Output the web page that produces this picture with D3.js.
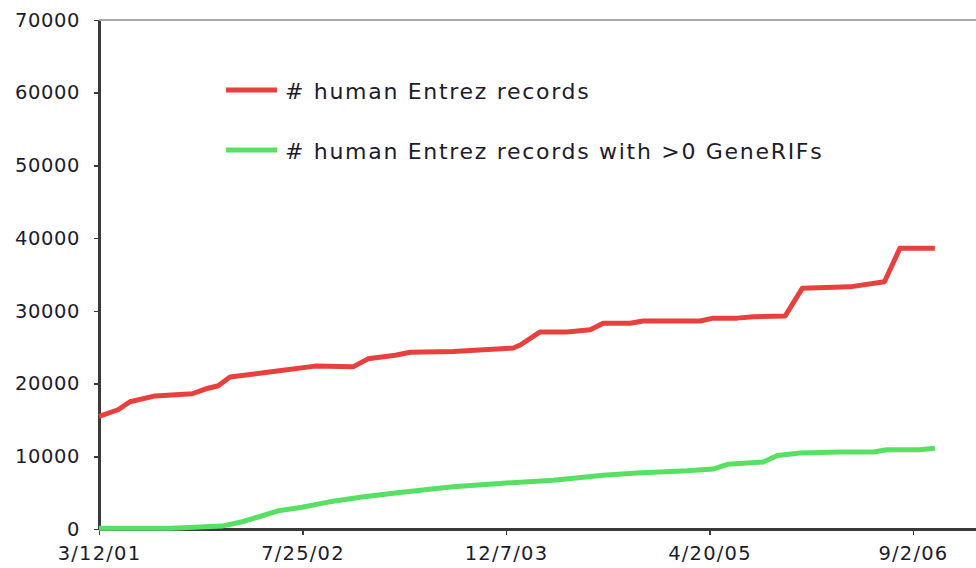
<!DOCTYPE html>
<html>
<head>
<meta charset="utf-8">
<script src="https://cdn.jsdelivr.net/npm/d3@7"></script>
<style>
  html, body { margin: 0; padding: 0; background: #fff; }
  svg { display: block; }
  text { font-family: "DejaVu Sans", Verdana, sans-serif; fill: #1c1c2e; }
</style>
</head>
<body>
<svg id="chart" width="976" height="568"></svg>
<script>
// ---- data ----
const seriesNames = ["# human Entrez records", "# human Entrez records with >0 GeneRIFs"];
const seriesColors = ["#e8413d", "#58e064"];

const recordDates = ["3/12/01","4/28/01","5/27/01","7/28/01","10/27/01","11/28/01","12/30/01","1/28/02","5/19/02","8/25/02","11/26/02","1/2/03","3/10/03","4/16/03","7/30/03","12/25/03","1/11/04","2/29/04","5/5/04","7/1/04","8/2/04","10/7/04","11/8/04","3/28/05","4/29/05","6/27/05","8/6/05","10/23/05","12/4/05","3/31/06","6/24/06","8/1/06","10/26/06"];
const recordValues = [15500,16400,17500,18300,18600,19250,19700,20900,21700,22400,22300,23400,23900,24300,24400,24900,25300,27100,27100,27400,28300,28300,28600,28600,29000,29000,29200,29300,33100,33300,34000,38600,38600];

const rifDates = ["3/12/01","9/7/01","11/28/01","1/8/02","2/27/02","4/7/02","5/26/02","7/24/02","9/26/02","12/18/02","3/10/03","5/22/03","7/30/03","11/30/03","4/1/04","8/2/04","10/24/04","2/24/05","4/29/05","6/3/05","8/30/05","10/4/05","11/29/05","3/7/06","5/28/06","6/30/06","9/19/06","10/26/06"];
const rifValues = [100,100,300,400,1000,1650,2500,3000,3700,4400,4950,5400,5800,6300,6700,7400,7700,8000,8250,8900,9200,10100,10450,10600,10600,10900,10900,11100];

const xTickLabels = ["3/12/01","7/25/02","12/7/03","4/20/05","9/2/06"];
const xAxisEnd = "2/4/07";
const yTicks = [0,10000,20000,30000,40000,50000,60000,70000];

// ---- drawing ----
(function () {
const parse = d3.utcParse("%m/%d/%y");
const svg = d3.select("#chart");
const mLeft = 99, mRight = 976, mTop = 20, mBottom = 529;

const x = d3.scaleUtc()
  .domain([parse(xTickLabels[0]), parse(xAxisEnd)])
  .range([mLeft, mRight]);
const y = d3.scaleLinear().domain([0, 70000]).range([mBottom, mTop]);

// top border line
svg.append("line")
  .attr("x1", mLeft).attr("x2", mRight)
  .attr("y1", y(70000)).attr("y2", y(70000))
  .attr("stroke", "#a8a8a8").attr("stroke-width", 2);

// y axis
const yAxis = svg.append("g")
  .attr("transform", `translate(${mLeft},0)`)
  .call(d3.axisLeft(y).tickValues(yTicks).tickFormat(d3.format("d")).tickSize(5).tickSizeOuter(0).tickPadding(14));
yAxis.select(".domain").attr("stroke", "#3a3a3a").attr("stroke-width", 2.5);
yAxis.selectAll(".tick line").attr("stroke", "#3a3a3a").attr("stroke-width", 1.5);
yAxis.selectAll(".tick text").style("font-size", "19.5px").style("letter-spacing", "0.6px").attr("fill", "#1c1c2e");

// x axis
const xAxis = svg.append("g")
  .attr("transform", `translate(0,${mBottom})`)
  .call(d3.axisBottom(x).tickValues(xTickLabels.map(parse)).tickFormat((d, i) => xTickLabels[i]).tickSize(6).tickSizeOuter(0).tickPadding(11));
xAxis.select(".domain").attr("stroke", "#3a3a3a").attr("stroke-width", 2.5);
xAxis.selectAll(".tick line").attr("stroke", "#3a3a3a").attr("stroke-width", 1.5);
xAxis.selectAll(".tick text").style("font-size", "19.5px").style("letter-spacing", "1.2px").attr("fill", "#1c1c2e");
svg.selectAll(".domain, .tick line").attr("shape-rendering", "crispEdges");

// lines
const line = d3.line().x(d => x(d[0])).y(d => y(d[1]));
const series = [
  recordDates.map((d, i) => [parse(d), recordValues[i]]),
  rifDates.map((d, i) => [parse(d), rifValues[i]])
];
series.forEach((s, i) => {
  svg.append("path")
    .datum(s)
    .attr("d", line)
    .attr("fill", "none")
    .attr("stroke", seriesColors[i])
    .attr("stroke-width", 5)
    .attr("stroke-linejoin", "round");
});

// legend
const legend = svg.append("g");
seriesNames.forEach((name, i) => {
  const cy = 90 + i * 60;
  legend.append("line")
    .attr("x1", 226).attr("x2", 277).attr("y1", cy).attr("y2", cy)
    .attr("stroke", seriesColors[i]).attr("stroke-width", 5);
  legend.append("text")
    .attr("x", 285).attr("y", cy + 8.5)
    .style("font-size", "22px")
    .style("letter-spacing", "1.7px")
    .text(name);
});
})();
</script>
</body>
</html>
